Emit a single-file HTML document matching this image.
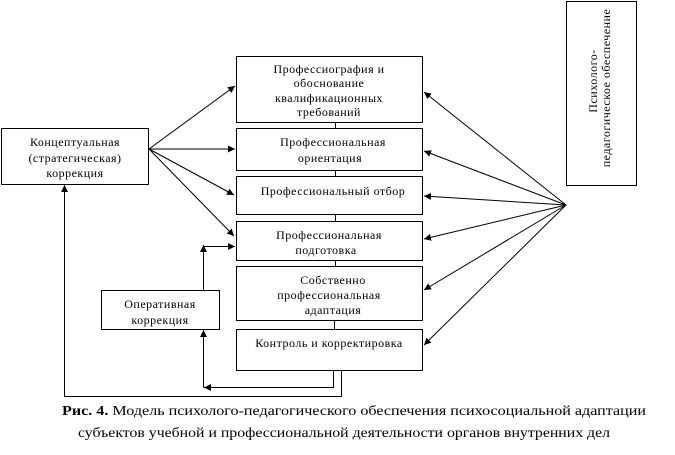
<!DOCTYPE html>
<html><head><meta charset="utf-8"><style>
html,body{margin:0;padding:0;background:#fff;}
svg{display:block;}
text{font-family:"Liberation Serif","Noto Serif CJK SC",serif;font-size:12px;letter-spacing:0.5px;fill:#000;}
.c{font-size:14px;letter-spacing:0;}
</style></head><body>
<svg width="675" height="455" viewBox="0 0 675 455" xmlns="http://www.w3.org/2000/svg">
<defs>
<marker id="a" viewBox="0 0 10 10" refX="10" refY="5" markerWidth="7" markerHeight="7" orient="auto-start-reverse" markerUnits="userSpaceOnUse"><path d="M0,0 L10,5 L0,10 z" fill="#000"/></marker>
</defs>
<g fill="none" stroke="#000" stroke-width="1">
<rect x="236.5" y="56.5" width="186" height="66"/>
<rect x="236.5" y="128.5" width="186" height="42"/>
<rect x="236.5" y="176.5" width="186" height="38"/>
<rect x="236.5" y="221.5" width="186" height="39"/>
<rect x="236.5" y="266.5" width="186" height="54"/>
<rect x="236.5" y="329.5" width="186" height="41"/>
<rect x="1.5" y="128.5" width="147" height="56"/>
<rect x="101.5" y="290.5" width="118" height="39"/>
<rect x="566.5" y="1.5" width="70" height="184"/>
<line x1="335.5" y1="122" x2="335.5" y2="128"/>
<line x1="335.5" y1="170" x2="335.5" y2="176"/>
<line x1="335.5" y1="214" x2="335.5" y2="221"/>
<line x1="335.5" y1="260" x2="335.5" y2="266"/>
<line x1="334.5" y1="320" x2="334.5" y2="329"/>
</g>
<g stroke="#000" stroke-width="1" fill="none">
<line x1="149" y1="149" x2="235" y2="86" marker-end="url(#a)"/>
<line x1="149" y1="149" x2="235" y2="149" marker-end="url(#a)"/>
<line x1="149" y1="149" x2="234" y2="195" marker-end="url(#a)"/>
<line x1="149" y1="149" x2="234" y2="236" marker-end="url(#a)"/>
<polyline points="203.5,290 203.5,246.5 235,246.5" marker-end="url(#a)"/>
<line x1="203.5" y1="290" x2="203.5" y2="245" marker-end="url(#a)"/>
<polyline points="333.5,371 333.5,387.5 203.5,387.5"/>
<line x1="215" y1="387.5" x2="204" y2="387.5" marker-end="url(#a)"/>
<line x1="203.5" y1="387.5" x2="203.5" y2="330" marker-end="url(#a)"/>
<polyline points="341.5,371 341.5,396.5 64.5,396.5 64.5,185" marker-end="url(#a)"/>
<line x1="566" y1="205" x2="424" y2="92" marker-end="url(#a)"/>
<line x1="566" y1="205" x2="424" y2="151" marker-end="url(#a)"/>
<line x1="566" y1="205" x2="424" y2="196" marker-end="url(#a)"/>
<line x1="566" y1="205" x2="424" y2="239" marker-end="url(#a)"/>
<line x1="566" y1="205" x2="424" y2="290" marker-end="url(#a)"/>
<line x1="566" y1="205" x2="424" y2="345" marker-end="url(#a)"/>
</g>
<g text-anchor="middle">
<text x="329" y="73">Профессиография и</text>
<text x="329" y="87">обоснование</text>
<text x="329" y="102">квалификационных</text>
<text x="329" y="116">требований</text>
<text x="333" y="146">Профессиональная</text>
<text x="330" y="162">ориентация</text>
<text x="333" y="195">Профессиональный отбор</text>
<text x="329" y="239">Профессиональная</text>
<text x="326" y="254">подготовка</text>
<text x="333" y="284">Собственно</text>
<text x="329" y="299">профессиональная</text>
<text x="333" y="314">адаптация</text>
<text x="329" y="347">Контроль и корректировка</text>
<text x="75" y="146">Концептуальная</text>
<text x="75" y="162">(стратегическая)</text>
<text x="75" y="177">коррекция</text>
<text x="160" y="308">Оперативная</text>
<text x="160" y="324">коррекция</text>
<text transform="translate(597,81) rotate(-90)">Психолого-</text>
<text transform="translate(610,88) rotate(-90)">педагогическое обеспечение</text>
</g>
<text class="c" x="62" y="415" textLength="584" lengthAdjust="spacingAndGlyphs"><tspan font-weight="bold">Рис. 4.</tspan> Модель психолого-педагогического обеспечения психосоциальной адаптации</text>
<text class="c" x="78" y="437" textLength="532" lengthAdjust="spacingAndGlyphs">субъектов учебной и профессиональной деятельности органов внутренних дел</text>
</svg>
</body></html>
